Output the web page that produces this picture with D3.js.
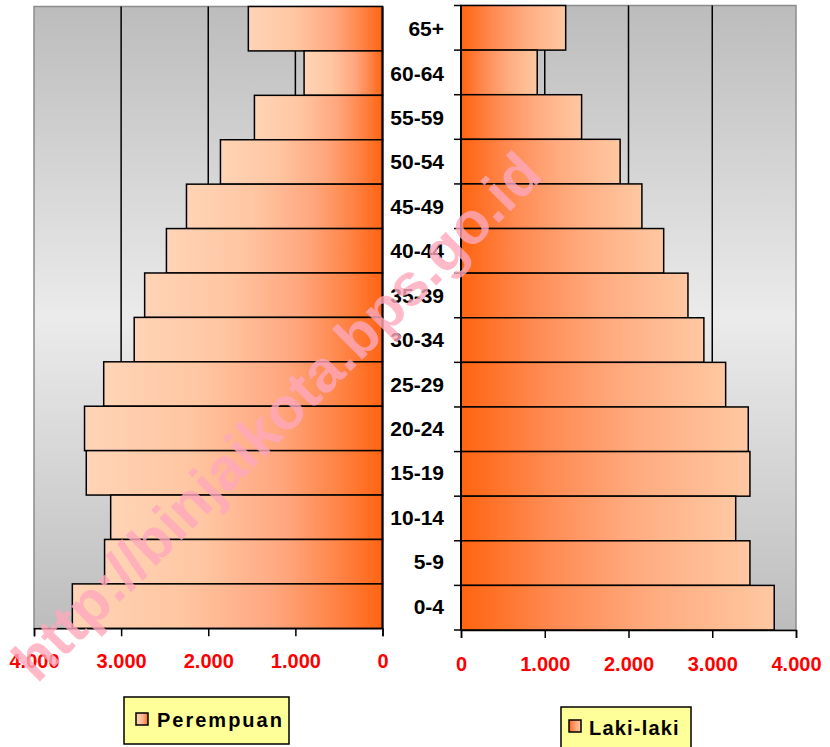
<!DOCTYPE html>
<html><head><meta charset="utf-8">
<script src="https://cdn.jsdelivr.net/npm/d3@7"></script>
<style>html,body{margin:0;padding:0;background:#fff;}svg{display:block;}</style>
</head><body>
<script>
const categories = ["65+","60-64","55-59","50-54","45-49","40-44","35-39","30-34","25-29","20-24","15-19","10-14","5-9","0-4"];
const perempuan = [1540,900,1470,1860,2250,2480,2730,2850,3200,3420,3400,3120,3190,3560];
const lakilaki = [1250,910,1440,1900,2160,2420,2710,2900,3160,3430,3450,3280,3450,3740];
const tickValues = [0,1000,2000,3000,4000];
const tickLabels = ["0","1.000","2.000","3.000","4.000"];
const legendLabels = ["Perempuan","Laki-laki"];
const watermark = "http://binjaikota.bps.go.id";

const W = 830, H = 747;
const svg = d3.select("body").append("svg").attr("width", W).attr("height", H);
const defs = svg.append("defs");
const FONT = "'Liberation Sans', Arial, sans-serif";

// gradients
const bg = defs.append("linearGradient").attr("id","bg").attr("x1",0).attr("y1",0).attr("x2",0).attr("y2",1);
[[0,"#bcbcbc"],[0.5,"#ebebeb"],[1,"#bdbdbd"]].forEach(s=>bg.append("stop").attr("offset",s[0]).attr("stop-color",s[1]));
const gL = defs.append("linearGradient").attr("id","gL").attr("x1",0).attr("y1",0).attr("x2",1).attr("y2",0);
[[0,"#ffd4b6"],[0.35,"#ffc6a2"],[0.65,"#ffa67e"],[0.85,"#ff8345"],[1,"#ff6412"]].forEach(s=>gL.append("stop").attr("offset",s[0]).attr("stop-color",s[1]));
const gR = defs.append("linearGradient").attr("id","gR").attr("x1",0).attr("y1",0).attr("x2",1).attr("y2",0);
[[0,"#ff6410"],[0.3,"#ff8a52"],[0.6,"#ffaa7e"],[1,"#ffc8a2"]].forEach(s=>gR.append("stop").attr("offset",s[0]).attr("stop-color",s[1]));

// scales
const xL = d3.scaleLinear().domain([0,4000]).range([382.5, 34]);
const xR = d3.scaleLinear().domain([0,4000]).range([461, 796]);
const yL = d3.scaleBand().domain(categories).range([6.5, 628.3]).padding(0);
const yR = d3.scaleBand().domain(categories).range([5.5, 630]).padding(0);

function panel(x, y, vals, grad, side) {
  const g = svg.append("g");
  const [x0, x1] = [Math.min(...x.range()), Math.max(...x.range())];
  const [y0, y1] = y.range();
  g.append("rect").attr("x",x0).attr("y",y0).attr("width",x1-x0).attr("height",y1-y0)
    .attr("fill","url(#bg)").attr("stroke","#8c8c8c").attr("stroke-width",1.5);
  g.selectAll(".grid").data(tickValues.filter(v=>v>0 && v<4000)).join("line")
    .attr("x1",d=>x(d)).attr("x2",d=>x(d)).attr("y1",y0).attr("y2",y1)
    .attr("stroke","#000").attr("stroke-width",1.5);
  g.selectAll(".bar").data(vals).join("rect")
    .attr("x",d=>Math.min(x(0),x(d))).attr("width",d=>Math.abs(x(d)-x(0)))
    .attr("y",(d,i)=>y(categories[i])).attr("height",y.bandwidth())
    .attr("fill",grad).attr("stroke","#000").attr("stroke-width",1.5);
  const axis = d3.axisBottom(x).tickValues(tickValues).tickSize(8).tickFormat(d=>tickLabels[tickValues.indexOf(d)]);
  const ax = g.append("g").attr("transform",`translate(0,${y1})`).call(axis);
  ax.select(".domain").attr("stroke","#000").attr("stroke-width",1.5);
  ax.selectAll(".tick line").attr("stroke","#000").attr("stroke-width",1.5);
  ax.selectAll(".tick text").attr("fill","#ff0000").attr("font-family",FONT).attr("font-weight","bold")
    .attr("font-size","20px").attr("dy","0").attr("y",side==="L"?40:41);
  g.append("line").attr("x1",x(0)).attr("x2",x(0)).attr("y1",y0).attr("y2",y1).attr("stroke","#000").attr("stroke-width",2);
  if (side === "R") {
    const bounds = categories.map(c=>y(c)).concat([y1]);
    g.selectAll(".yt").data(bounds).join("line")
      .attr("x1",x(0)-7).attr("x2",x(0)).attr("y1",d=>d).attr("y2",d=>d)
      .attr("stroke","#000").attr("stroke-width",1.5);
  }
}
panel(xL, yL, perempuan, "url(#gL)", "L");
panel(xR, yR, lakilaki, "url(#gR)", "R");

// category labels
svg.append("g").selectAll("text").data(categories).join("text")
  .attr("x",444).attr("y",d=>yL(d)+yL.bandwidth()/2+7.5)
  .attr("text-anchor","end").attr("font-family",FONT).attr("font-weight","bold")
  .attr("font-size","21px").attr("fill","#000").text(d=>d);

// legends
function legend(bx, by, bw, bh, sx, sy, tx, ty, label, grad, ls) {
  const g = svg.append("g");
  g.append("rect").attr("x",bx).attr("y",by).attr("width",bw).attr("height",bh)
    .attr("fill","#ffff99").attr("stroke","#000").attr("stroke-width",1.5);
  g.append("rect").attr("x",sx).attr("y",sy).attr("width",12).attr("height",12)
    .attr("fill",grad).attr("stroke","#000").attr("stroke-width",1.5);
  g.append("text").attr("x",tx).attr("y",ty).attr("font-family",FONT).attr("font-weight","bold")
    .attr("font-size","20px").attr("letter-spacing",ls).attr("fill","#000").text(label);
}
legend(124, 697, 165, 47, 136, 713, 157, 727, legendLabels[0], "url(#gL)", "2px");
legend(561, 707, 130, 50, 569, 720, 589, 735, legendLabels[1], "url(#gR)", "1.2px");

// watermark
svg.append("text").attr("transform","translate(276,416) rotate(-45)")
  .attr("text-anchor","middle").attr("dy","21")
  .attr("font-family",FONT).attr("font-weight","bold").attr("font-size","59px")
  .attr("fill","#ffa8bb").attr("fill-opacity",0.8).text(watermark);
</script>
</body></html>
